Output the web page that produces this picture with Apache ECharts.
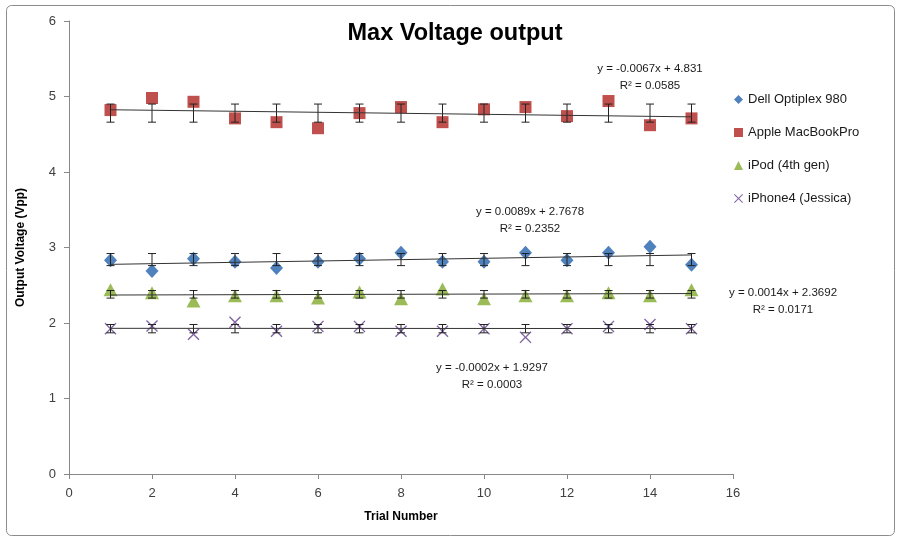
<!DOCTYPE html>
<html><head><meta charset="utf-8">
<script src="https://cdn.jsdelivr.net/npm/echarts@6/dist/echarts.min.js"></script>
<style>html,body{margin:0;padding:0;background:#fff}#c{width:902px;height:542px}</style>
</head><body><div id="c"></div>
<script>
const trials = [1,2,3,4,5,6,7,8,9,10,11,12,13,14,15];
const dell   = [2.83,2.69,2.85,2.81,2.73,2.81,2.85,2.93,2.81,2.81,2.93,2.83,2.93,3.01,2.77];
const apple  = [4.82,4.98,4.93,4.71,4.66,4.58,4.78,4.86,4.66,4.83,4.86,4.74,4.94,4.62,4.71];
const ipod   = [2.44,2.40,2.29,2.36,2.36,2.33,2.41,2.32,2.45,2.32,2.36,2.36,2.40,2.36,2.44];
const iphone = [1.925,1.96,1.85,2.01,1.89,1.955,1.955,1.89,1.89,1.925,1.81,1.925,1.955,1.98,1.925];
// error bar ranges [low, high] per series
const dellErr   = [2.76, 2.92];
const appleErr  = [4.66, 4.90];
const ipodErr   = [2.33, 2.43];
const iphoneErr = [1.87, 1.98];
// trendline coefficients [slope, intercept]
const dellFit   = [0.0089, 2.7678];
const appleFit  = [-0.0067, 4.831];
const ipodFit   = [0.0014, 2.3692];
const iphoneFit = [-0.0002, 1.9297];
const names = ['Dell Optiplex 980','Apple MacBookPro','iPod (4th gen)','iPhone4 (Jessica)'];
const eqTexts = [
  ['y = 0.0089x + 2.7678','R² = 0.2352'],
  ['y = -0.0067x + 4.831','R² = 0.0585'],
  ['y = 0.0014x + 2.3692','R² = 0.0171'],
  ['y = -0.0002x + 1.9297','R² = 0.0003']
];

const xPath = 'path://M0,8L8,0L50,42L92,0L100,8L58,50L100,92L92,100L50,58L8,100L0,92L42,50Z';
const colors = ['#4F81BD','#C0504D','#9BBB59','#8064A2'];
const symbols = ['diamond','rect','triangle',xPath];
const sizes = [[13,14],12,[14,13],12];
const values = [dell, apple, ipod, iphone];
const errs = [dellErr, appleErr, ipodErr, iphoneErr];
const fits = [dellFit, appleFit, ipodFit, iphoneFit];

const series = [];
values.forEach((v,i)=>{
  series.push({
    name: names[i], type:'scatter', symbol: symbols[i], symbolSize: sizes[i],
    itemStyle:{color: colors[i], opacity:1}, z:2,
    data: trials.map((t,k)=>[t, v[k]])
  });
});
errs.forEach((e,i)=>{
  series.push({
    type:'custom', silent:true, z:3,
    renderItem: function(params, api){
      const x = api.value(0);
      const p1 = api.coord([x, api.value(1)]);
      const p2 = api.coord([x, api.value(2)]);
      const w = 4;
      const st = {stroke:'#222', lineWidth:1};
      return {type:'group', children:[
        {type:'line', shape:{x1:p1[0],y1:p1[1],x2:p2[0],y2:p2[1]}, style:st},
        {type:'line', shape:{x1:p1[0]-w,y1:p1[1],x2:p1[0]+w,y2:p1[1]}, style:st},
        {type:'line', shape:{x1:p2[0]-w,y1:p2[1],x2:p2[0]+w,y2:p2[1]}, style:st}
      ]};
    },
    data: trials.map(t=>[t, e[0], e[1]])
  });
});
fits.forEach((f,i)=>{
  series.push({
    type:'line', silent:true, symbol:'none', z:4,
    lineStyle:{color:'#333', width:1},
    data: [[trials[0], f[0]*trials[0]+f[1]], [trials[14], f[0]*trials[14]+f[1]]]
  });
});

const eqPos = [[530,203],[650,60],[783,284],[492,359]];
const graphics = [
  {type:'rect', shape:{x:6.5,y:5.5,width:888,height:530,r:5}, style:{fill:'none',stroke:'#8c8c8c',lineWidth:1}, z:-1}
];
eqTexts.forEach((t,i)=>{
  graphics.push({type:'text', x:eqPos[i][0], y:eqPos[i][1],
    style:{text:t[0]+'\n'+t[1], align:'center', font:'11.5px "Liberation Sans"', fill:'#1a1a1a', lineHeight:17}});
});

const chart = echarts.init(document.getElementById('c'));
chart.setOption({
  animation:false,
  title:{text:'Max Voltage output', top:17, left:450, textAlign:'center',
    textStyle:{fontFamily:'Liberation Sans', fontSize:23.5, fontWeight:'bold', color:'#000'}},
  legend:{data:names, orient:'vertical', left:729, top:88, itemWidth:9, itemHeight:9, itemGap:20,
    textStyle:{fontFamily:'Liberation Sans', fontSize:13, color:'#1a1a1a'}},
  grid:{left:69, right:169, top:21, bottom:68},
  xAxis:{type:'value', min:0, max:16, interval:2, name:'Trial Number', nameLocation:'middle', nameGap:37,
    nameTextStyle:{fontFamily:'Liberation Sans', fontSize:12, fontWeight:'bold', color:'#000'},
    axisLine:{lineStyle:{color:'#888'}}, axisTick:{show:true, length:5, lineStyle:{color:'#888'}},
    axisLabel:{fontFamily:'Liberation Sans', fontSize:13, color:'#404040', margin:13},
    splitLine:{show:false}},
  yAxis:{type:'value', min:0, max:6, interval:1, name:'Output Voltage (Vpp)', nameLocation:'middle', nameGap:42,
    nameTextStyle:{fontFamily:'Liberation Sans', fontSize:12, fontWeight:'bold', color:'#000'},
    axisLine:{show:true, lineStyle:{color:'#888'}}, axisTick:{show:true, length:5, lineStyle:{color:'#888'}},
    axisLabel:{fontFamily:'Liberation Sans', fontSize:13, color:'#404040', margin:13},
    splitLine:{show:false}},
  graphic: graphics,
  series: series
});
</script></body></html>
